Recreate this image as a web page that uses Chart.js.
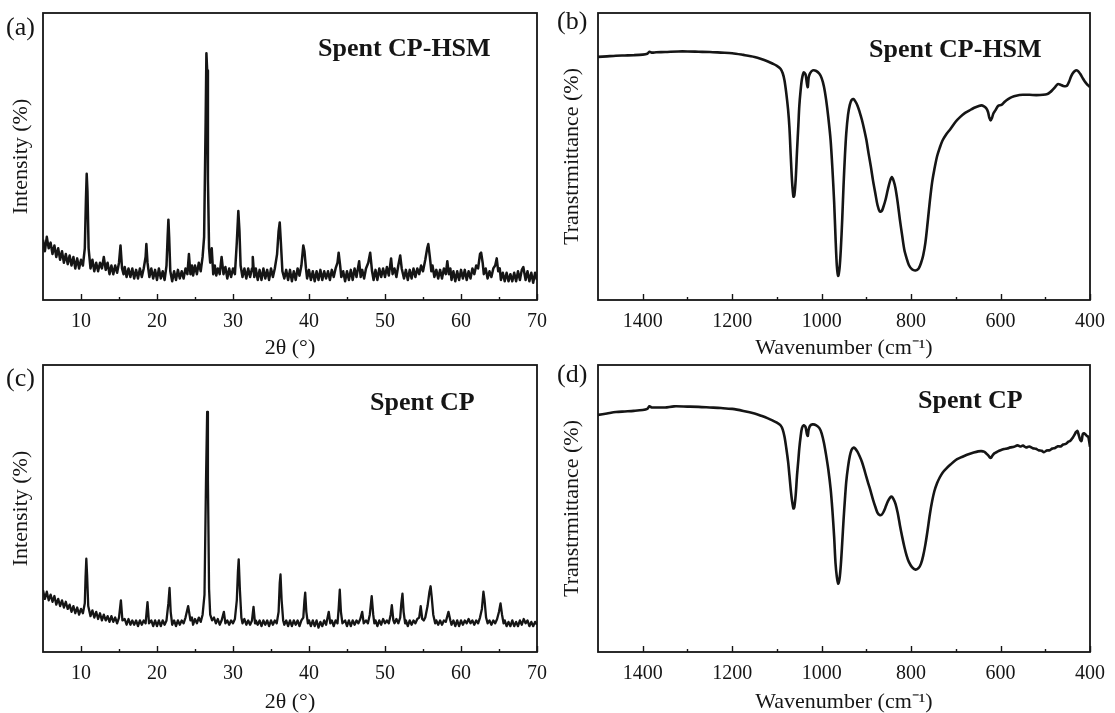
<!DOCTYPE html>
<html><head><meta charset="utf-8">
<script src="https://cdn.jsdelivr.net/npm/chart.js@4.4.0/dist/chart.umd.min.js"></script>
<style>
html,body{margin:0;padding:0;background:#fff;width:1115px;height:713px;overflow:hidden;position:relative}
canvas{position:absolute}
</style></head><body>
<canvas id="ca" width="557" height="365" style="left:0;top:0"></canvas>
<canvas id="cb" width="558" height="365" style="left:557px;top:0"></canvas>
<canvas id="cc" width="557" height="357" style="left:0;top:356px"></canvas>
<canvas id="cd" width="558" height="357" style="left:557px;top:356px"></canvas>
<script>
// ---------- tick labels ----------
const xrdTicks = [10, 20, 30, 40, 50, 60, 70];
const xrdMinor = [15, 25, 35, 45, 55, 65];
const ftirTicks = [1400, 1200, 1000, 800, 600, 400];
const ftirMinor = [1300, 1100, 900, 700, 500];

// ---------- (a) XRD Spent CP-HSM : [2theta, intensity] ----------
const xrdA = [
[5.0,21],[5.25,17],[5.5,22],[5.75,18],[6.0,20],[6.25,16],[6.5,19],[6.75,15],[7.0,18],[7.25,14],[7.5,17],[7.75,13],
[8.0,16],[8.25,12.5],[8.5,15.5],[8.75,12],[9.0,15],[9.25,11],[9.5,14.5],[9.75,11],[10.0,14],[10.25,12],[10.5,18],
[10.65,35],[10.75,44],[10.85,38],[11.0,18],[11.25,11],[11.5,14],[11.75,10],[12.0,13],[12.25,10],[12.5,13],[12.75,11],
[13.0,15],[13.25,10.5],[13.5,13],[13.75,9],[14.0,12],[14.25,9],[14.5,12],[14.75,9.5],[15.0,13],[15.2,19],[15.4,11],
[15.6,9],[15.75,11.5],[16.0,8],[16.25,11],[16.5,8],[16.75,11],[17.0,7.5],[17.25,10.5],[17.5,7.5],[17.75,11],[18.0,8],
[18.25,11],[18.5,15],[18.6,19.5],[18.75,13],[19.0,8],[19.25,11],[19.5,7.5],[19.75,10.5],[20.0,7],[20.25,11],[20.5,7.5],
[20.75,10],[21.0,7],[21.25,12],[21.4,22],[21.5,28],[21.6,22],[21.75,10],[22.0,6.5],[22.25,10],[22.5,7],[22.75,10.5],
[23.0,7.5],[23.25,10],[23.5,7.5],[23.75,11],[24.0,9],[24.2,16],[24.4,9],[24.6,12],[24.75,8.5],[25.0,12],[25.25,9],
[25.5,13],[25.75,10],[26.0,15],[26.2,22],[26.4,62],[26.5,86],[26.6,80],[26.7,42],[26.85,18],[27.0,13],[27.2,18],
[27.4,9],[27.6,12],[27.8,8.5],[28.0,11],[28.25,9],[28.5,15],[28.75,9],[29.0,11.5],[29.25,7.5],[29.5,11],[29.75,8],
[30.0,11],[30.25,9],[30.5,20],[30.7,31],[30.85,24],[31.0,12],[31.25,8],[31.5,11],[31.75,7.5],[32.0,11],[32.25,8],
[32.5,11],[32.6,15],[32.8,8],[33.0,11],[33.25,7],[33.5,10.5],[33.75,7],[34.0,11],[34.25,7.5],[34.5,10.5],[34.75,7],
[35.0,11],[35.25,8],[35.5,11],[35.8,16],[36.0,24],[36.15,27],[36.3,20],[36.5,10],[36.75,7.5],[37.0,10.5],[37.25,7],
[37.5,10.5],[37.75,6.5],[38.0,10],[38.25,7],[38.5,11],[38.75,8.5],[39.0,12],[39.25,19],[39.4,17],[39.6,11],[39.75,7.5],
[40.0,10.5],[40.25,7],[40.5,10],[40.75,6.5],[41.0,10],[41.25,7],[41.5,10.5],[41.75,7],[42.0,10],[42.25,7.5],[42.5,10],
[42.75,7],[43.0,10.5],[43.25,8],[43.5,11],[43.75,13],[43.9,16.5],[44.1,12],[44.25,8],[44.5,10],[44.75,6.5],[45.0,10],
[45.25,7],[45.5,10.5],[45.75,7],[46.0,11],[46.25,8],[46.6,13.5],[46.8,8],[47.0,10.5],[47.25,7.5],[47.5,11],[47.8,13],
[48.05,16.5],[48.3,10],[48.5,7],[48.75,10.5],[49.0,7],[49.25,11],[49.5,8],[49.75,11],[50.0,8],[50.25,11.5],[50.5,8.5],
[50.8,14.5],[51.0,9],[51.25,11],[51.5,8],[51.75,12],[52.0,15.5],[52.2,11],[52.5,7.5],[52.75,10.5],[53.0,7],[53.25,10.5],
[53.5,7.5],[53.75,11],[54.0,8],[54.25,11],[54.5,9],[54.75,12],[55.0,10],[55.3,14],[55.55,18],[55.7,19.5],[55.9,15],
[56.1,10],[56.25,12],[56.5,8],[56.75,10.5],[57.0,7.5],[57.25,10.5],[57.5,7.5],[57.75,11],[58.0,9],[58.2,13.5],[58.4,9],
[58.6,11],[58.75,7],[59.0,10],[59.25,6.5],[59.5,10],[59.75,7],[60.0,10.5],[60.25,7.5],[60.5,10.5],[60.75,7],[61.0,10],
[61.25,7.5],[61.5,11],[61.75,9],[62.0,12],[62.25,11],[62.5,16],[62.65,16.5],[62.85,13],[63.0,9],[63.25,11],[63.5,7.5],
[63.75,10],[64.0,8],[64.25,11],[64.5,12],[64.7,14.5],[64.9,10],[65.1,11],[65.25,7],[65.5,9.5],[65.75,6.5],[66.0,9.5],
[66.25,6.5],[66.5,9],[66.75,6.5],[67.0,9.5],[67.25,6.5],[67.5,10],[67.75,7],[68.0,10.5],[68.2,11.5],[68.5,7],[68.75,10],
[69.0,6.5],[69.25,9.5],[69.5,6],[69.75,9.5],[70.0,7]
];

// ---------- (c) XRD Spent CP ----------
const xrdC = [
[5.0,21.5],[5.25,18.5],[5.5,21],[5.75,18],[6.0,20],[6.25,17.5],[6.5,19.5],[6.75,16.5],[7.0,18.5],[7.25,16],[7.5,18],
[7.75,15.5],[8.0,17.5],[8.25,15],[8.5,16.5],[8.75,14],[9.0,16],[9.25,13.5],[9.5,15.5],[9.75,13],[10.0,15],[10.25,13.5],
[10.5,17],[10.6,26],[10.7,32.5],[10.8,27],[10.95,16],[11.25,12.5],[11.5,14.5],[11.75,12],[12.0,14],[12.25,11.5],
[12.5,13.5],[12.75,11],[13.0,13],[13.25,11],[13.5,12.5],[13.75,10.5],[14.0,12.5],[14.25,10.5],[14.5,12],[14.75,10],
[15.0,12],[15.25,18],[15.45,11],[15.75,11.5],[16.0,9.5],[16.25,11.5],[16.5,9.5],[16.75,11],[17.0,9.5],[17.25,11],
[17.5,9],[17.75,11],[18.0,9.5],[18.25,11],[18.5,10],[18.75,17.4],[18.95,10],[19.25,11],[19.5,9],[19.75,11],[20.0,9],
[20.25,11],[20.5,9],[20.75,11],[21.0,9.5],[21.25,11],[21.5,17],[21.65,22.3],[21.8,14],[22.0,9.5],[22.25,11],[22.5,9],
[22.75,11],[23.0,9.5],[23.25,11],[23.5,10],[23.75,12],[24.1,16],[24.4,11],[24.6,12],[24.75,9.5],[25.0,11.5],[25.25,10],
[25.5,12],[25.75,10.5],[26.0,13],[26.25,20],[26.45,60],[26.6,83.7],[26.7,60],[26.85,22],[27.0,13],[27.25,11],[27.5,12],
[27.75,10],[28.0,11.5],[28.25,9.5],[28.5,11],[28.8,14],[29.0,10],[29.25,11],[29.5,9.5],[29.75,11],[30.0,10],[30.25,11.5],
[30.5,18],[30.65,28],[30.75,32.3],[30.9,22],[31.1,12],[31.25,10],[31.5,11.5],[31.75,9.5],[32.0,11],[32.25,9.5],[32.5,11],
[32.7,15.7],[32.9,10],[33.0,11],[33.25,9.5],[33.5,11],[33.75,9],[34.0,11],[34.25,9.5],[34.5,11],[34.75,9],[35.0,11],
[35.25,9.5],[35.5,11],[35.75,10],[36.0,14],[36.15,24],[36.25,27],[36.4,18],[36.6,11],[36.75,9.5],[37.0,11],[37.25,9],
[37.5,11],[37.75,9],[38.0,11],[38.25,9.5],[38.5,11],[38.75,9],[39.0,11],[39.25,12],[39.4,18],[39.5,20.7],[39.65,14],
[39.85,10],[40.0,11],[40.25,9],[40.5,11],[40.75,9],[41.0,11],[41.25,8.5],[41.5,10.5],[41.75,9],[42.0,11],[42.25,9.5],
[42.6,14],[42.8,10],[43.0,11],[43.25,9],[43.5,11],[43.75,10],[43.9,15],[44.05,21.7],[44.2,14],[44.4,10],[44.75,11],
[45.0,9],[45.25,11],[45.5,9],[45.75,11],[46.0,9.5],[46.25,11],[46.5,10],[46.75,11.5],[47.0,14],[47.2,10],[47.5,11],
[47.75,10],[48.0,13],[48.25,19.5],[48.45,13],[48.6,10],[48.75,11],[49.0,9],[49.25,11],[49.5,9.5],[49.75,11.5],[50.0,10],
[50.25,11],[50.5,10],[50.75,13],[50.9,16.3],[51.1,11],[51.25,10],[51.5,11.5],[51.75,10],[52.0,12],[52.15,17],[52.3,20.3],
[52.45,14],[52.65,10],[52.75,11],[53.0,9],[53.25,11],[53.5,9.5],[53.75,11],[54.0,10],[54.25,11.5],[54.5,12],[54.7,16],
[54.9,11.5],[55.1,11],[55.3,12],[55.6,16],[55.85,21],[56.0,22.9],[56.15,19],[56.35,13],[56.6,10],[56.75,11],[57.0,9.5],
[57.25,11],[57.5,9.5],[57.75,11],[58.0,10.5],[58.35,14],[58.6,11],[58.75,9.5],[59.0,11],[59.25,9],[59.5,11],[59.75,9],
[60.0,11],[60.25,9.5],[60.5,11],[60.75,10],[61.0,11.5],[61.25,10],[61.5,11],[61.75,9.5],[62.0,11],[62.25,10],[62.5,12],
[62.75,15],[62.95,21],[63.1,18],[63.3,12],[63.5,10],[63.75,11],[64.0,9.5],[64.25,11],[64.5,10],[64.75,11.5],[65.0,14],
[65.2,16.9],[65.4,13],[65.6,10],[65.75,11],[66.0,9],[66.25,10.5],[66.5,9],[66.75,11],[67.0,9],[67.25,10.5],[67.5,9],
[67.75,11],[68.0,9.5],[68.25,11.5],[68.5,10],[68.75,11],[69.0,9],[69.25,10.5],[69.5,9],[69.75,10.5],[70.0,9.5]
];

// ---------- (b) FTIR Spent CP-HSM : [wavenumber, transmittance] ----------
const ftirB = [
[1500,84.7],[1480,84.9],[1460,85.1],[1440,85.2],[1420,85.3],[1400,85.5],[1390,85.8],[1385,86.5],[1380,86.2],[1370,86.3],
[1350,86.4],[1320,86.6],[1300,86.6],[1275,86.5],[1250,86.4],[1225,86.2],[1200,86],[1175,85.4],[1150,84.7],[1135,84],
[1120,83.1],[1110,82.4],[1100,81.6],[1092,80.6],[1087,79],[1083,76.5],[1079,72],[1075,66.3],[1072,60],[1069,50],
[1066,41],[1063,36],[1061,36.5],[1058,42],[1055,52],[1052,61],[1050,67.4],[1047,73],[1044,77],[1040,79.3],[1036,78.6],
[1033,75.5],[1031,74.2],[1029,77.5],[1026,79],[1020,80],[1012,79.8],[1005,78.8],[1000,77.3],[995,74.5],[990,69.8],
[985,63.5],[980,55.8],[976,46],[972,34],[969,22],[966,12],[963,8.4],[960,11],[957,18],[954,28],[951,40],[948,50],
[945,58],[941,64.5],[937,68],[933,69.7],[929,70],[925,69.3],[920,67.8],[915,65.5],[910,62.8],[905,59.5],[900,55.8],
[895,51],[890,46.5],[885,41.5],[880,37.2],[875,33],[870,30.8],[866,30.9],[862,32.4],[857,35],[852,38.5],[847,41.5],
[843,42.8],[839,41.5],[835,39],[830,34],[825,27.9],[820,22.5],[815,17.4],[810,14.5],[805,12.2],[798,10.7],[790,10.3],
[783,11],[778,12.8],[773,15.5],[768,20],[763,27],[758,34.5],[753,41],[748,45.5],[742,50],[736,53],[730,55.5],[722,57.6],
[712,59.6],[700,62.2],[690,63.8],[680,65.1],[670,66],[660,66.9],[650,67.5],[643,67.8],[637,67.5],[632,66.8],[628,65.5],
[625,63.5],[622,62.6],[619,63.5],[616,65],[612,66],[605,67.7],[598,68],[590,69.2],[583,70],[575,70.7],[565,71.2],
[550,71.5],[535,71.5],[520,71.4],[505,71.5],[495,71.8],[490,72.3],[485,73],[478,74.2],[472,75.2],[466,75],[460,74.6],
[452,74.6],[447,76],[442,78],[437,79.3],[432,80],[427,79.8],[422,78.8],[417,77.5],[412,76.2],[407,75.2],[403,74.6],[400,74.2]
];

// ---------- (d) FTIR Spent CP ----------
const ftirD = [
[1500,82.6],[1480,83.1],[1460,83.6],[1440,83.8],[1420,84],[1400,84.3],[1390,84.7],[1385,85.6],[1380,85.2],[1370,85.2],
[1350,85.2],[1330,85.6],[1300,85.5],[1275,85.4],[1250,85.2],[1225,85],[1200,84.7],[1175,84],[1150,83.1],[1135,82.3],
[1120,81.4],[1110,80.7],[1100,79.9],[1092,79],[1087,77.5],[1083,75],[1079,71],[1075,66.3],[1072,61.5],[1069,56.5],
[1066,52.5],[1063,50],[1061,50.5],[1058,54.7],[1055,61.6],[1052,67],[1050,70.9],[1047,75],[1044,78],[1040,79],
[1036,78.4],[1033,76],[1031,75.3],[1029,77.5],[1026,78.8],[1020,79.3],[1012,79],[1005,78],[1000,76.2],[995,73],
[990,68.6],[985,63.5],[980,57],[976,49.5],[972,40],[969,31],[966,26.2],[963,23.8],[960,25.5],[957,30.5],[954,38],
[951,46],[948,53],[945,59.3],[941,64.5],[937,68.3],[933,70.5],[929,71.2],[925,70.9],[920,69.8],[915,68.2],[910,66.3],
[905,63.8],[900,61],[895,58.4],[890,55.8],[885,53],[880,50.6],[875,48.5],[870,47.7],[866,47.8],[862,48.7],[857,50.5],
[852,52.5],[847,53.8],[843,54.1],[839,53.2],[835,51.7],[830,48.5],[825,44.2],[820,40.2],[815,36.6],[810,33.6],
[805,31.4],[798,29.6],[790,28.7],[783,29.3],[778,30.7],[773,33.5],[768,37.5],[763,42.5],[758,48],[753,52.5],[748,56],
[742,58.8],[736,60.8],[730,62.4],[722,63.8],[712,65.3],[700,66.9],[690,67.7],[680,68.4],[670,69],[660,69.5],[650,69.9],
[643,70],[637,69.8],[632,69.2],[628,68.6],[624,67.8],[621,67.7],[618,68.5],[614,69.2],[607,69.8],[600,70.3],[592,70.7],
[585,70.9],[578,71.3],[570,71.5],[562,72],[556,71.6],[550,71.9],[543,71.3],[536,71.6],[528,71],[521,70.8],[515,70.3],
[508,70.1],[503,69.6],[497,70.2],[490,70.3],[484,70.9],[478,71.1],[472,71.7],[466,71.6],[460,72.3],[454,72.5],[449,73.2],
[444,73.6],[439,74.6],[435,75.6],[431,76.7],[428,77],[425,75.5],[422,74],[419,73.5],[416,76],[413,76.2],[410,75.8],
[407,75.3],[404,75],[402,73.5],[400,71.5]
];

const SERIF = '"Liberation Serif", "Times New Roman", serif';
const INK = '#151515';

const framePlugin = {
  id: 'frame',
  afterDraw(chart, args, o) {
    const {ctx, chartArea: {left, top, right, bottom}} = chart;
    const xs = chart.scales.x;
    ctx.save();
    ctx.strokeStyle = INK;
    ctx.lineWidth = 1.8;
    ctx.strokeRect(left, top, right - left, bottom - top);
    ctx.lineWidth = 1.4;
    o.major.forEach(v => {
      const px = Math.round(xs.getPixelForValue(v)) + 0.5;
      ctx.beginPath(); ctx.moveTo(px, bottom); ctx.lineTo(px, bottom - 6); ctx.stroke();
    });
    o.minor.forEach(v => {
      const px = Math.round(xs.getPixelForValue(v)) + 0.5;
      ctx.beginPath(); ctx.moveTo(px, bottom); ctx.lineTo(px, bottom - 3); ctx.stroke();
    });
    ctx.fillStyle = INK;
    ctx.textAlign = 'left';
    ctx.textBaseline = 'middle';
    ctx.font = '26px ' + SERIF;
    ctx.fillText(o.panel, o.panelX, o.panelY);
    ctx.textBaseline = 'alphabetic';
    ctx.font = 'bold 26px ' + SERIF;
    ctx.fillText(o.note, left + o.noteDx, top + o.noteDy);
    ctx.restore();
  }
};

function makeChart(id, data, cfg) {
  const tickVals = cfg.ticks;
  new Chart(document.getElementById(id), {
    type: 'line',
    data: { datasets: [{
      data: data,
      borderColor: INK,
      borderWidth: cfg.lw,
      borderJoinStyle: 'round',
      pointRadius: 0,
      tension: cfg.tension,
      fill: false
    }]},
    options: {
      responsive: false,
      animation: false,
      devicePixelRatio: 1,
      layout: { padding: { top: cfg.padTop, right: cfg.padRight, left: 0, bottom: 0 } },
      plugins: {
        legend: { display: false },
        tooltip: { enabled: false },
        frame: cfg.frame
      },
      scales: {
        x: {
          type: 'linear',
          min: cfg.min, max: cfg.max, reverse: cfg.reverse,
          grid: { display: false, drawTicks: false },
          border: { display: false },
          afterBuildTicks: s => { s.ticks = tickVals.map(v => ({ value: v })); },
          afterFit: s => { s.height = cfg.xh; },
          ticks: { color: INK, font: { family: SERIF, size: 20 }, padding: 10, maxRotation: 0, autoSkip: false,
                   callback: v => String(v) },
          title: { display: true, text: cfg.xTitle, color: INK, font: { family: SERIF, size: 22, lineHeight: 1 }, padding: { top: 0, bottom: cfg.xTitlePad } }
        },
        y: {
          min: 0, max: 100,
          grid: { display: false, drawTicks: false },
          border: { display: false },
          ticks: { display: false },
          afterFit: s => { s.width = cfg.yw; },
          title: { display: true, text: cfg.yTitle, color: INK, font: { family: SERIF, size: 22, lineHeight: 1 }, padding: { top: cfg.yTitlePad, bottom: 0 } }
        }
      }
    },
    plugins: [framePlugin]
  });
}

makeChart('ca', xrdA, {
  min: 5, max: 70, reverse: false, ticks: xrdTicks, lw: 2.5, tension: 0,
  padTop: 13, padRight: 17, xh: 65, yw: 43, xTitlePad: 6, yTitlePad: 10,
  xTitle: '2θ (°)', yTitle: 'Intensity (%)',
  frame: { major: xrdTicks, minor: xrdMinor, panel: '(a)', panelX: 6, panelY: 28, note: 'Spent CP-HSM', noteDx: 275, noteDy: 43 }
});
makeChart('cb', ftirB, {
  min: 400, max: 1500, reverse: true, ticks: ftirTicks, lw: 2.6, tension: 0.3,
  padTop: 13, padRight: 22, xh: 65, yw: 41, xTitlePad: 6, yTitlePad: 4,
  xTitle: 'Wavenumber (cm⁻¹)', yTitle: 'Transtrmittance (%)',
  frame: { major: ftirTicks, minor: ftirMinor, panel: '(b)', panelX: 0, panelY: 22, note: 'Spent CP-HSM', noteDx: 271, noteDy: 44 }
});
makeChart('cc', xrdC, {
  min: 5, max: 70, reverse: false, ticks: xrdTicks, lw: 2.3, tension: 0,
  padTop: 9, padRight: 17, xh: 61, yw: 43, xTitlePad: 0, yTitlePad: 10,
  xTitle: '2θ (°)', yTitle: 'Intensity (%)',
  frame: { major: xrdTicks, minor: xrdMinor, panel: '(c)', panelX: 6, panelY: 23, note: 'Spent CP', noteDx: 327, noteDy: 45 }
});
makeChart('cd', ftirD, {
  min: 400, max: 1500, reverse: true, ticks: ftirTicks, lw: 2.6, tension: 0.3,
  padTop: 9, padRight: 22, xh: 61, yw: 41, xTitlePad: 0, yTitlePad: 4,
  xTitle: 'Wavenumber (cm⁻¹)', yTitle: 'Transtrmittance (%)',
  frame: { major: ftirTicks, minor: ftirMinor, panel: '(d)', panelX: 0, panelY: 19, note: 'Spent CP', noteDx: 320, noteDy: 43 }
});
</script>
</body></html>
